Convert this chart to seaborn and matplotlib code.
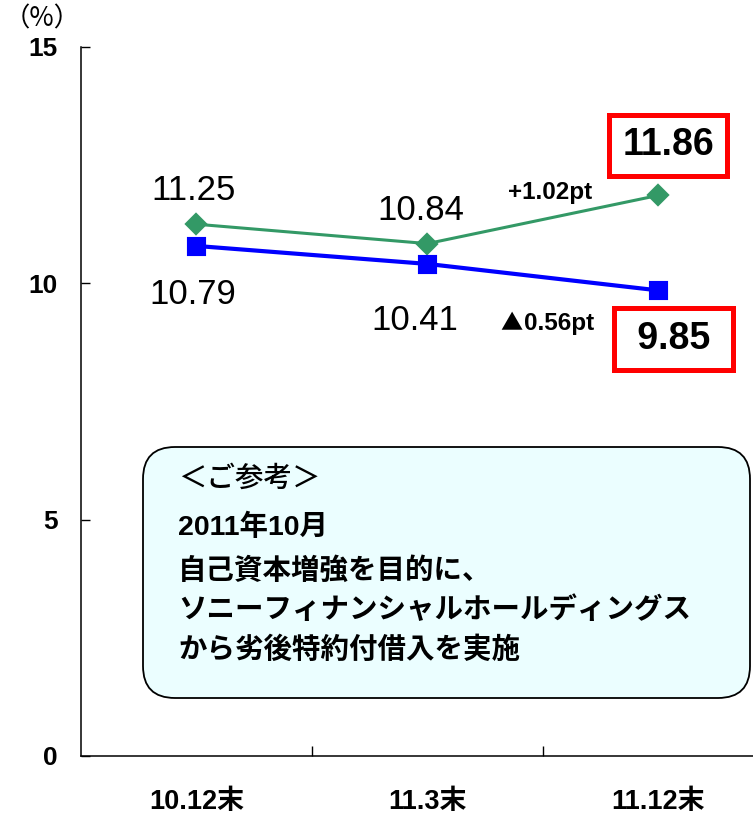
import numpy as np
import pandas as pd
import matplotlib.pyplot as plt
import seaborn as sns
from matplotlib.patches import FancyBboxPatch

# datos
periods = ['10.12末', '11.3末', '11.12末']
green_vals = [11.25, 10.84, 11.86]
blue_vals = [10.79, 10.41, 9.85]
green_labels = ['11.25', '10.84', '11.86']
blue_labels = ['10.79', '10.41', '9.85']
y_ticks = [0, 5, 10, 15]
green_diff = '+1.02pt'
blue_diff = '0.56pt'
note_title = '＜ご参考＞'
note_lines = ['2011年10月', '自己資本増強を目的に、',
              'ソニーフィナンシャルホールディングス', 'から劣後特約付借入を実施']

GREEN = '#339966'
BLUE = '#0000ff'
JP = ['Noto Sans CJK JP', 'DejaVu Sans']

sns.set_theme(style='white')
plt.rcParams['font.family'] = ['Liberation Sans', 'Noto Sans CJK JP', 'DejaVu Sans']
plt.rcParams['text.color'] = 'black'
plt.rcParams['xtick.labelcolor'] = 'black'
plt.rcParams['ytick.labelcolor'] = 'black'

fig = plt.figure(figsize=(7.53, 8.14), dpi=100)
ax = fig.add_axes([0.1076, 0.0713, 0.920, 0.871])

df = pd.DataFrame({'period': periods, 'green': green_vals, 'blue': blue_vals})

sns.pointplot(data=df, x='period', y='green', order=periods, color=GREEN,
              markers='D', markersize=10.5, linewidth=2.2, errorbar=None, ax=ax)
sns.pointplot(data=df, x='period', y='blue', order=periods, color=BLUE,
              markers='s', markersize=11.5, linewidth=3.0, errorbar=None, ax=ax)

ax.set_xlim(-0.5, 2.5)
ax.set_ylim(0, 15)
ax.set_xlabel('')
ax.set_ylabel('')

# ejes
for s in ['top', 'right']:
    ax.spines[s].set_visible(False)
for s in ['left', 'bottom']:
    ax.spines[s].set_color('black')
    ax.spines[s].set_linewidth(1.1)

ax.set_yticks(y_ticks)
ax.set_yticklabels([str(t) for t in y_ticks], fontsize=19, fontweight='bold')
ax.tick_params(axis='y', direction='in', length=6.5, width=1.0, color='black', pad=17, left=True)

ax.set_xticks(range(len(periods)))
ax.set_xticklabels(periods, fontsize=19.5, fontweight='bold')
ax.set_xticks([0.5, 1.5, 2.5], minor=True)
ax.tick_params(axis='x', which='major', length=0, pad=24)
ax.tick_params(axis='x', which='minor', direction='in', length=7, width=1.0, color='black', bottom=True)

# etiquetas de valores
green_off = [(-2, 24), (-5, 24)]
blue_off = [(-3, -35), (-9, -41)]
for i in range(2):
    ax.annotate(green_labels[i], (i, green_vals[i]), xytext=green_off[i], textcoords='offset points',
                ha='center', va='center', fontsize=25)
    ax.annotate(blue_labels[i], (i, blue_vals[i]), xytext=blue_off[i], textcoords='offset points',
                ha='center', va='center', fontsize=25)

box = dict(boxstyle='square,pad=0.34', fc='white', ec='#ff0000', lw=3.6)
ax.annotate(green_labels[2], (2, green_vals[2]), xytext=(7, 36), textcoords='offset points',
            ha='center', va='center', fontsize=27, fontweight='bold', bbox=box)
ax.annotate(' ' + blue_labels[2] + ' ', (2, blue_vals[2]), xytext=(11, -35), textcoords='offset points',
            ha='center', va='center', fontsize=27, fontweight='bold', bbox=box)

ax.annotate(green_diff, (2, green_vals[2]), xytext=(-78, 2), textcoords='offset points',
            ha='center', va='center', fontsize=17.5, fontweight='bold')
ax.annotate('▲', (2, blue_vals[2]), xytext=(-106, -24), textcoords='offset points',
            ha='center', va='center', fontsize=16, family=JP)
ax.annotate(blue_diff, (2, blue_vals[2]), xytext=(-97, -24), textcoords='offset points',
            ha='left', va='center', fontsize=17.5, fontweight='bold')

fig.text(0.0558, 0.9767, '（%）', ha='center', va='center', fontsize=19, family=JP)

# recuadro de nota
note = FancyBboxPatch((1.43, 1.16), 6.07, 2.51, boxstyle='round,pad=0,rounding_size=0.32',
                      transform=fig.dpi_scale_trans, fc='#ebfeff', ec='black', lw=1.3)
fig.add_artist(note)
fig.text(0.2364, 0.4128, note_title, ha='left', va='center', fontsize=20.5, family=JP, fontweight='medium')
ys = [0.3526, 0.2985, 0.2506, 0.2015]
for y, line in zip(ys, note_lines):
    fig.text(0.2364, y, line, ha='left', va='center', fontsize=20.5, fontweight='bold',
             family=['Liberation Sans', 'Noto Sans CJK JP'])

fig.savefig('out.png', dpi=100)
